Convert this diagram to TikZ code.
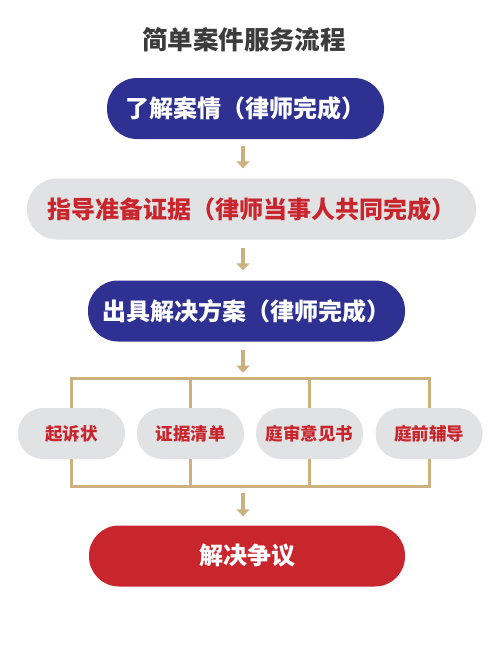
\documentclass[tikz,border=0pt]{standalone}
\usepackage{fontspec}
\usetikzlibrary{arrows.meta}
\newfontfamily\cjk{Noto Sans CJK SC Black}
\definecolor{navy}{RGB}{46,49,146}
\definecolor{rred}{RGB}{201,37,44}
\definecolor{lgray}{RGB}{225,226,228}
\definecolor{tan}{RGB}{205,176,127}
\definecolor{tgray}{RGB}{60,60,60}
\tikzset{
  bigbox/.style={minimum height=61pt, rounded corners=30pt, inner sep=0pt, font=\cjk\fontsize{24}{24}\selectfont},
  smallbox/.style={fill=lgray, text=rred, minimum width=107pt, minimum height=51pt, rounded corners=25pt, inner sep=0pt, font=\cjk\fontsize{17.5}{17.5}\selectfont},
  arr/.style={draw=tan, line width=3.5pt, -{Triangle[width=13pt,length=7pt]}},
  br/.style={draw=tan, line width=3pt, line join=miter}
}
\begin{document}
\begin{tikzpicture}[x=1pt,y=-1pt]
\useasboundingbox (0,0) rectangle (500,646);
\node[font=\cjk\fontsize{25.5}{25.5}\selectfont, text=tgray] (title) at (244,39.5) {简单案件服务流程};
\node[bigbox, fill=navy, text=white, minimum width=277pt] (b1) at (245.5,108.5) {了解案情（律师完成）};
\node[bigbox, fill=lgray, text=rred, minimum width=449pt] (b2) at (251.5,209) {指导准备证据（律师当事人共同完成）};
\node[bigbox, fill=navy, text=white, minimum width=317pt] (b3) at (246.5,311) {出具解决方案（律师完成）};
\node[smallbox] (sa) at (71.5,433.5) {起诉状};
\node[smallbox] (sb) at (190.5,433.5) {证据清单};
\node[smallbox] (sc) at (309.5,433.5) {庭审意见书};
\node[smallbox] (sd) at (429,433.5) {庭前辅导};
\node[bigbox, fill=rred, text=white, minimum width=316pt] (fin) at (247,556) {解决争议};
\coordinate (ax) at (243,0);
\coordinate (tl) at (243,378.7);
\coordinate (bl) at (243,486);
\draw[arr, shorten <=7pt, shorten >=10pt] (ax |- b1.south) -- (ax |- b2.north);
\draw[arr, shorten <=8pt, shorten >=10pt] (ax |- b2.south) -- (ax |- b3.north);
\draw[arr, shorten <=8pt, shorten >=6pt] (ax |- b3.south) -- (tl);
\draw[br] (sa.north) |- (tl) -| (sd.north);
\draw[br] (sb.north) -- (sb.north |- tl);
\draw[br] (sc.north) -- (sc.north |- tl);
\draw[br] (sa.south) |- (bl) -| (sd.south);
\draw[br] (sb.south) -- (sb.south |- bl);
\draw[br] (sc.south) -- (sc.south |- bl);
\draw[arr, shorten <=7pt, shorten >=9pt] (bl) -- (ax |- fin.north);
\end{tikzpicture}
\end{document}
